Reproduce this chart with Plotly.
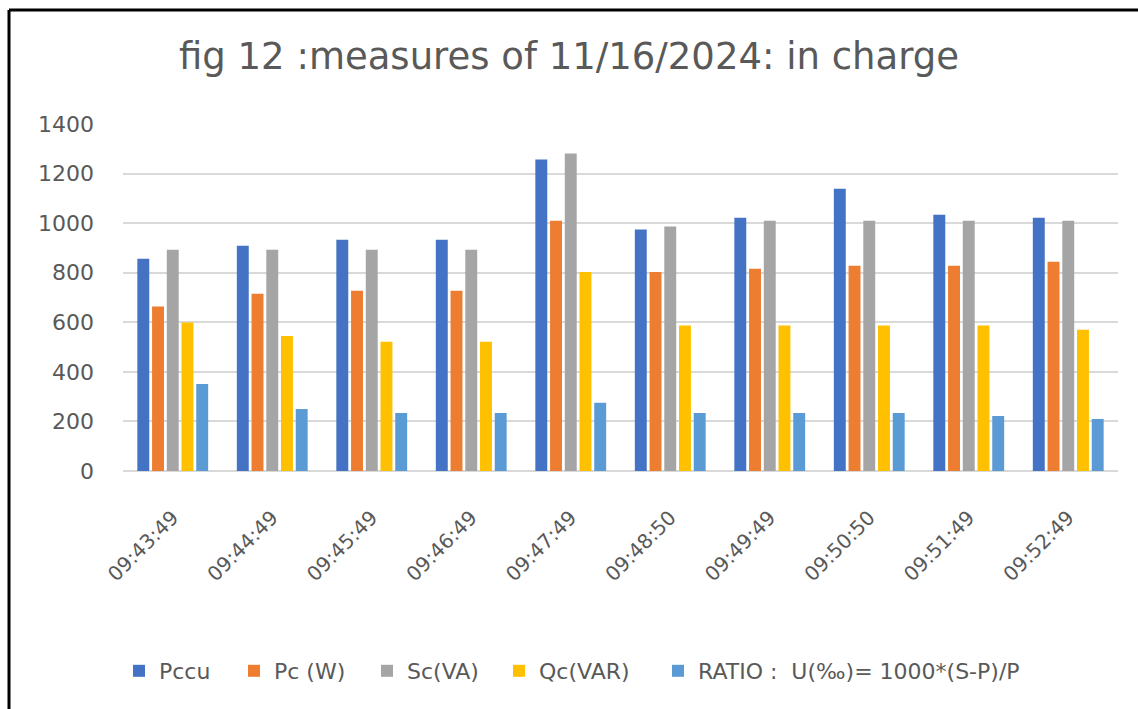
import plotly.graph_objects as go

times = ["09:43:49", "09:44:49", "09:45:49", "09:46:49", "09:47:49",
         "09:48:50", "09:49:49", "09:50:50", "09:51:49", "09:52:49"]
pccu = [856, 909, 933, 933, 1257, 974, 1022, 1139, 1034, 1022]
pc_w = [664, 715, 727, 727, 1010, 803, 816, 828, 828, 844]
sc_va = [893, 893, 893, 893, 1281, 986, 1010, 1010, 1010, 1010]
qc_var = [599, 545, 521, 521, 803, 587, 587, 587, 587, 570]
ratio = [351, 250, 234, 234, 275, 234, 234, 234, 222, 210]

series_names = ["Pccu", "Pc (W)", "Sc(VA)", "Qc(VAR)", "RATIO :  U(‰)= 1000*(S-P)/P"]
series_values = [pccu, pc_w, sc_va, qc_var, ratio]
series_colors = ["#4472C4", "#ED7D31", "#A5A5A5", "#FFC000", "#5B9BD5"]
legend_marker_px = [135, 250, 383, 515, 674]

W, H = 1138, 709
L, R, T, B = 123, 20, 124, 238
pw, ph = W - L - R, H - T - B

font = "DejaVu Sans"
gray = "#595959"

fig = go.Figure()
legends = {}
for i, (name, vals, col, mx) in enumerate(zip(series_names, series_values,
                                             series_colors, legend_marker_px)):
    key = "legend" if i == 0 else f"legend{i + 1}"
    fig.add_trace(go.Bar(x=times, y=vals, name=name, marker_color=col,
                         marker_line_width=0, legend=key))
    legends[key] = dict(orientation="h", x=(mx - 16) / W, xref="container",
                        xanchor="left", y=1 - 671 / H, yref="container",
                        yanchor="middle", bgcolor="rgba(0,0,0,0)",
                        font=dict(family=font, size=22, color=gray),
                        itemwidth=30)


def px_x(x):
    return (x - L) / pw


def px_y(y):
    return (H - B - y) / ph


fig.update_layout(
    width=W, height=H,
    margin=dict(l=L, r=R, t=T, b=B),
    paper_bgcolor="white", plot_bgcolor="white",
    barmode="group", bargap=0.26, bargroupgap=0.19,
    title=dict(text="fig 12 :measures of 11/16/2024: in charge",
               font=dict(family=font, size=37, color=gray),
               x=0.5, xref="container", xanchor="center",
               y=1 - 56 / H, yref="container", yanchor="middle"),
    font=dict(family=font, color=gray),
    showlegend=True,
    xaxis=dict(tickangle=-45, tickfont=dict(family=font, size=20, color=gray),
               showline=False, showgrid=False, ticks="", ticklabelstandoff=30),
    yaxis=dict(range=[0, 1400], dtick=200,
               tickfont=dict(family=font, size=22, color=gray),
               showgrid=True, gridcolor="#D9D9D9", gridwidth=2,
               zeroline=True, zerolinecolor="#D9D9D9", zerolinewidth=2,
               showline=False, ticks="", ticklabelstandoff=28),
    shapes=[
        dict(type="line", xref="paper", yref="paper",
             x0=px_x(9), x1=px_x(1145), y0=px_y(10), y1=px_y(10),
             line=dict(color="black", width=3)),
        dict(type="line", xref="paper", yref="paper",
             x0=px_x(9), x1=px_x(9), y0=px_y(10), y1=px_y(715),
             line=dict(color="black", width=3)),
    ],
    **legends,
)

fig.write_html("out.html", config={"displayModeBar": False},
               post_script="document.body.style.margin='0';document.body.style.padding='0';")
